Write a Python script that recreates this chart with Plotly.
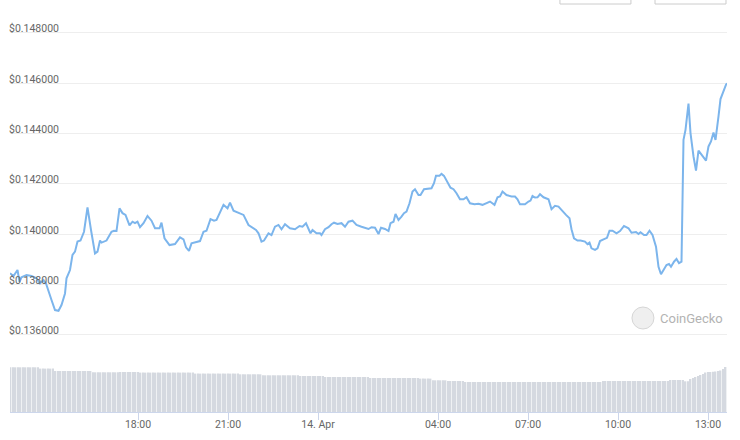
import pandas as pd
import plotly.graph_objects as go

# price readings, 13 Apr (afternoon / evening)
times_13 = [
    "13:44", "13:51", "13:59", "14:03", "14:07", "14:17", "14:27", "14:37", "14:44", "14:51",
    "14:56", "15:01", "15:07", "15:14", "15:21", "15:27", "15:34", "15:37", "15:44", "15:49",
    "15:54", "15:59", "16:05", "16:12", "16:19", "16:26", "16:34", "16:39", "16:44", "16:47",
    "16:57", "17:07", "17:12", "17:17", "17:23", "17:29", "17:35", "17:43", "17:49", "17:54",
    "17:59", "18:04", "18:11", "18:19", "18:27", "18:34", "18:43", "18:47", "18:53", "19:03",
    "19:14", "19:24", "19:31", "19:36", "19:42", "19:47", "19:57", "20:04", "20:11", "20:17",
    "20:25", "20:32", "20:37", "20:44", "20:51", "20:59", "21:04", "21:11", "21:21", "21:31",
    "21:41", "21:47", "21:56", "22:01", "22:07", "22:12", "22:21", "22:27", "22:34", "22:41",
    "22:47", "22:54", "23:04", "23:14", "23:23", "23:29", "23:36", "23:42", "23:45", "23:49",
    "23:57",
]
# price readings, 14 Apr
times_14 = [
    "00:04", "00:07", "00:14", "00:21", "00:27", "00:32", "00:39", "00:47", "00:54", "01:01",
    "01:09", "01:17", "01:27", "01:34", "01:41", "01:47", "01:54", "02:01", "02:06", "02:14",
    "02:21", "02:25", "02:31", "02:35", "02:41", "02:47", "02:52", "02:57", "03:03", "03:09",
    "03:14", "03:21", "03:25", "03:32", "03:41", "03:47", "03:52", "03:56", "04:03", "04:07",
    "04:12", "04:19", "04:25", "04:31", "04:37", "04:44", "04:51", "04:57", "05:04", "05:13",
    "05:21", "05:29", "05:37", "05:44", "05:53", "05:59", "06:04", "06:09", "06:17", "06:27",
    "06:34", "06:39", "06:44", "06:54", "07:01", "07:05", "07:09", "07:14", "07:19", "07:24",
    "07:31", "07:41", "07:47", "07:54", "08:01", "08:09", "08:16", "08:23", "08:27", "08:32",
    "08:39", "08:45", "08:54", "08:59", "09:03", "09:07", "09:14", "09:19", "09:24", "09:31",
    "09:38", "09:43", "09:49", "09:57", "10:04", "10:12", "10:21", "10:27", "10:36", "10:41",
    "10:45", "10:52", "10:57", "11:03", "11:09", "11:16", "11:21", "11:26", "11:32", "11:37",
    "11:42", "11:46", "11:52", "11:57", "12:02", "12:07", "12:11", "12:15", "12:21", "12:25",
    "12:31", "12:36", "12:41", "12:47", "12:56", "13:01", "13:06", "13:11", "13:15", "13:21",
    "13:25", "13:36", "13:38",
]
prices = [
    # 13 Apr
    0.13845, 0.13834, 0.13858, 0.13811, 0.13829, 0.13838, 0.13834, 0.13825, 0.13805, 0.13818,
    0.13805, 0.13772, 0.13739, 0.13699, 0.13696, 0.13719, 0.13765, 0.13825, 0.13858, 0.13918,
    0.13931, 0.13971, 0.13975, 0.14010, 0.14107, 0.14017, 0.13924, 0.13931, 0.13975, 0.13967,
    0.13975, 0.14010, 0.14014, 0.14013, 0.14103, 0.14084, 0.14077, 0.14035, 0.14050, 0.14044,
    0.14050, 0.14028, 0.14044, 0.14073, 0.14054, 0.14024, 0.14024, 0.14046, 0.13984, 0.13957,
    0.13961, 0.13988, 0.13980, 0.13948, 0.13934, 0.13964, 0.13971, 0.13973, 0.14010, 0.14014,
    0.14060, 0.14054, 0.14057, 0.14090, 0.14117, 0.14103, 0.14126, 0.14094, 0.14084, 0.14077,
    0.14037, 0.14028, 0.14017, 0.14004, 0.13971, 0.13975, 0.14004, 0.13997, 0.14030, 0.14037,
    0.14020, 0.14040, 0.14024, 0.14020, 0.14033, 0.14030, 0.14044, 0.14017, 0.14004, 0.14017,
    0.14004,
    # 14 Apr
    0.14004, 0.13997, 0.14020, 0.14028, 0.14040, 0.14046, 0.14041, 0.14044, 0.14030, 0.14050,
    0.14054, 0.14037, 0.14030, 0.14026, 0.14021, 0.14028, 0.14026, 0.14001, 0.14026, 0.14021,
    0.14013, 0.14044, 0.14050, 0.14081, 0.14057, 0.14070, 0.14084, 0.14090, 0.14123, 0.14170,
    0.14179, 0.14156, 0.14156, 0.14179, 0.14183, 0.14183, 0.14203, 0.14233, 0.14233, 0.14240,
    0.14232, 0.14203, 0.14185, 0.14179, 0.14163, 0.14139, 0.14139, 0.14147, 0.14123, 0.14119,
    0.14121, 0.14117, 0.14123, 0.14130, 0.14117, 0.14147, 0.14150, 0.14170, 0.14156, 0.14150,
    0.14150, 0.14139, 0.14119, 0.14119, 0.14130, 0.14134, 0.14152, 0.14146, 0.14147, 0.14159,
    0.14147, 0.14139, 0.14100, 0.14113, 0.14110, 0.14090, 0.14077, 0.14064, 0.14020, 0.13984,
    0.13975, 0.13975, 0.13971, 0.13961, 0.13967, 0.13944, 0.13938, 0.13944, 0.13973, 0.13980,
    0.13986, 0.14014, 0.14014, 0.14004, 0.14013, 0.14033, 0.14024, 0.14006, 0.14009, 0.14001,
    0.14008, 0.13997, 0.13997, 0.14014, 0.13997, 0.13951, 0.13871, 0.13841, 0.13861, 0.13878,
    0.13882, 0.13871, 0.13891, 0.13902, 0.13885, 0.13891, 0.14375, 0.14415, 0.14519, 0.14402,
    0.14309, 0.14253, 0.14332, 0.14316, 0.14293, 0.14349, 0.14369, 0.14404, 0.14375, 0.14468,
    0.14537, 0.14594, 0.14600,
]

# 24h volume (millions USD), one bar every 5 minutes from 13:45
volume_start = "2023-04-13 13:45"
volume_m = [
    44.7, 44.7, 44.7, 44.7, 44.7, 44.7, 44.7, 44.7, 44.7, 44.7, 44.7, 44.7,
    43.4, 43.4, 43.4, 43.4, 43.4, 43.4,
    41.0, 41.0, 41.0, 41.0, 41.0, 41.0, 41.0, 41.0, 41.0, 41.0, 41.0, 41.0, 41.0, 41.0, 41.0,
    39.7, 39.7, 39.7, 39.7, 39.7, 39.7, 39.7, 39.7, 39.7, 39.7, 39.7,
    40.0, 40.0, 40.0, 40.0, 40.0, 40.0, 40.0, 40.0,
    39.4, 39.4, 39.4, 39.4, 39.4, 39.4, 39.4, 39.4, 39.4, 39.4, 39.4,
    39.4, 39.4, 39.4, 39.4, 39.4, 39.4, 39.4, 39.4, 39.4, 39.4, 39.4,
    38.4, 38.4, 38.4, 38.4, 38.4, 38.4, 38.4, 38.4, 38.4,
    38.4, 38.4, 38.4, 38.4, 38.4, 38.4, 38.4, 38.4, 38.4,
    37.7, 37.7, 37.7, 37.7, 37.7, 37.7, 37.7, 37.7, 37.7,
    36.7, 36.7, 36.7, 36.7, 36.7, 36.7, 36.7, 36.7, 36.7, 36.7, 36.7, 36.7, 36.7, 36.7, 36.7,
    36.0, 36.0, 36.0, 36.0, 36.0, 36.0, 36.0, 36.0, 36.0, 36.0,
    35.0, 35.0, 35.0, 35.0, 35.0, 35.0, 35.0, 35.0, 35.0,
    35.0, 35.0, 35.0, 35.0, 35.0, 35.0, 35.0, 35.0, 35.0,
    34.0, 34.0, 34.0, 34.0, 34.0, 34.0, 34.0, 34.0, 34.0, 34.0,
    34.0, 34.0, 34.0, 34.0, 34.0, 34.0, 34.0, 34.0, 34.0, 34.0,
    33.4, 33.4, 33.4, 33.4, 33.4,
    31.7, 31.7, 31.7, 31.7, 31.7, 31.7,
    31.0, 31.0, 31.0, 31.0, 31.0, 31.0, 31.0,
    30.0, 30.0, 30.0, 30.0, 30.0, 30.0, 30.0, 30.0, 30.0, 30.0, 30.0,
    30.0, 30.0, 30.0, 30.0, 30.0, 30.0, 30.0, 30.0, 30.0, 30.0, 30.0,
    30.0, 30.0, 30.0, 30.0, 30.0, 30.0, 30.0, 30.0, 30.0, 30.0, 30.0,
    30.0, 30.0, 30.0, 30.0, 30.0, 30.0, 30.0, 30.0, 30.0, 30.0, 30.0,
    30.0, 30.0, 30.0, 30.0, 30.0, 30.0, 30.0, 30.0, 30.0, 30.0, 30.0,
    31.0, 31.0, 31.0, 31.0, 31.0, 31.0, 31.0, 31.0, 31.0,
    31.0, 31.0, 31.0, 31.0, 31.0, 31.0, 31.0, 31.0, 31.0,
    31.0, 31.0, 31.0, 31.0, 31.0, 31.0, 31.0, 31.0, 31.0,
    32.0, 32.0, 32.0, 32.0, 32.0, 32.0,
    30.7, 30.7,
    33.0, 34.0, 35.0, 36.0, 37.0, 38.0,
    39.5, 40.0, 40.0, 40.2, 40.5, 41.0, 41.5,
    43.0, 45.0,
]

tick_times = ["2023-04-13 18:00", "2023-04-13 21:00", "2023-04-14 00:00", "2023-04-14 04:00",
              "2023-04-14 07:00", "2023-04-14 10:00", "2023-04-14 13:00"]
tick_labels = ["18:00", "21:00", "14. Apr", "04:00", "07:00", "10:00", "13:00"]
price_ticks = [0.136, 0.138, 0.140, 0.142, 0.144, 0.146, 0.148]

price_times = ["2023-04-13 " + t for t in times_13] + ["2023-04-14 " + t for t in times_14]
volume_times = pd.date_range(volume_start, periods=len(volume_m), freq="5min")

axis_font = dict(family="Roboto, Noto Sans, sans-serif", size=10.5, color="#666666")

fig = go.Figure()

# volume pane
fig.add_trace(go.Bar(
    x=volume_times, y=volume_m,
    yaxis="y2",
    marker=dict(color="#d5d9e0", line_width=0),
    hoverinfo="skip",
))

# price line
fig.add_trace(go.Scatter(
    x=price_times, y=prices,
    mode="lines",
    line=dict(color="#7cb5ec", width=2),
    hoverinfo="skip",
))

# range-selector buttons peeking in at the top, and the watermark
for x0, x1 in [(0.767, 0.866), (0.8996, 0.9986)]:
    fig.add_shape(type="rect", xref="paper", yref="paper",
                  x0=x0, x1=x1, y0=1.0149, y1=1.06,
                  line=dict(color="#cccccc", width=1), fillcolor="white")
fig.add_shape(type="circle", xref="paper", yref="paper",
              xsizemode="pixel", ysizemode="pixel",
              xanchor=0.8828, yanchor=0.2338,
              x0=-11, x1=11, y0=-11, y1=11,
              line=dict(color="#d6d6d6", width=1), fillcolor="#efefef")
fig.add_annotation(text="CoinGecko", xref="paper", yref="paper",
                   x=0.9498, y=0.2338, xanchor="center", yanchor="middle",
                   showarrow=False,
                   font=dict(family="Roboto, sans-serif", size=13, color="#b3b3b3"))

fig.update_layout(
    width=740, height=440,
    margin=dict(l=10, r=13, t=10, b=28),
    paper_bgcolor="white", plot_bgcolor="white",
    showlegend=False,
    bargap=0.3,
    xaxis=dict(
        type="date",
        range=["2023-04-13 13:44", "2023-04-14 13:38"],
        anchor="y2",
        automargin=False,
        tickvals=tick_times, ticktext=tick_labels,
        showgrid=False, zeroline=False,
        showline=True, linecolor="#ccd6eb", linewidth=1,
        ticks="outside", ticklen=7, tickcolor="#ccd6eb",
        ticklabelstandoff=-5,
        tickfont=axis_font,
    ),
    yaxis=dict(
        domain=[0.1791, 1.0],
        range=[0.13580, 0.14891],
        automargin=False,
        tickvals=price_ticks,
        tickformat="$.6f",
        ticklabelposition="inside top",
        ticklabelshift=3,
        ticklabelstandoff=-4,
        showgrid=True, gridcolor="#eeeeee", gridwidth=1,
        zeroline=False, showline=False,
        tickfont=axis_font,
    ),
    yaxis2=dict(
        domain=[0, 0.1169],
        range=[0, 47],
        showgrid=False, zeroline=False,
        showticklabels=False, showline=False,
    ),
)

fig.write_html("out.html", config={"displayModeBar": False},
               post_script="document.body.style.margin='0px';")
